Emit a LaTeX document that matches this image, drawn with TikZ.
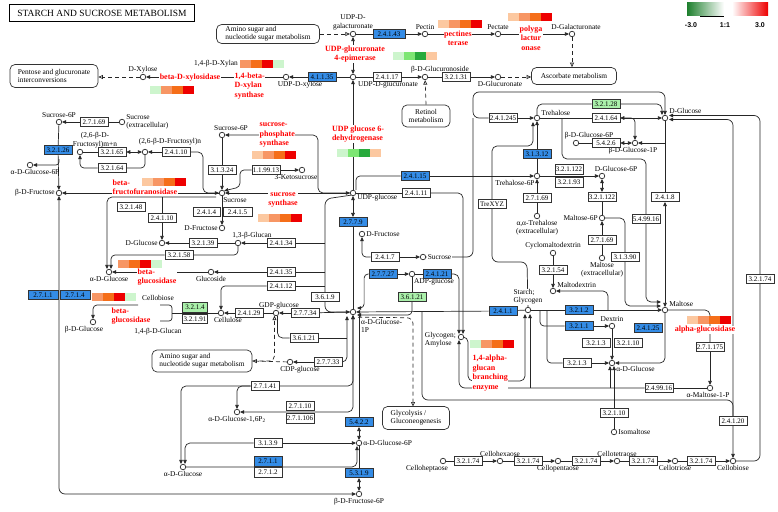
\documentclass[tikz,border=0pt]{standalone}
\usepackage{fontspec}
\setmainfont{Liberation Serif}
\setsansfont{Liberation Sans}
\usetikzlibrary{arrows.meta,positioning,calc}
\pgfdeclarelayer{bg}
\pgfsetlayers{bg,main}
\definecolor{keggblue}{RGB}{52,140,230}
\definecolor{ecgreen}{RGB}{170,240,170}
\definecolor{hp}{RGB}{252,200,160}
\definecolor{hs}{RGB}{247,150,100}
\definecolor{ho}{RGB}{245,110,25}
\definecolor{hr}{RGB}{238,0,0}
\definecolor{gl}{RGB}{205,245,205}
\definecolor{gm}{RGB}{125,230,115}
\definecolor{gd}{RGB}{40,170,60}
\newcommand{\heatbar}[3]{%
  \foreach \hcol [count=\hidx from 0] in {#3}
    {\fill[\hcol] ({#1+\hidx*11},#2) rectangle ++(11,8);}}

\begin{document}
\begin{tikzpicture}[x=1pt, y=-1pt,
    every node/.style={font=\fontsize{7.4}{8.2}\selectfont, inner sep=1pt},
    line/.style={draw=black!85, line width=0.7pt},
    arr/.style={line, -{Triangle[length=4pt, width=3.6pt]}},
    arrb/.style={line, {Triangle[length=4pt, width=3.6pt]}-{Triangle[length=4pt, width=3.6pt]}},
    link/.style={line, dash pattern=on 4pt off 3pt, -{Triangle[open, length=4.5pt, width=4pt]}},
    ecbox/.style={draw=black!80, line width=0.6pt, fill=white, minimum width=28pt, minimum height=9.5pt, inner sep=0pt, font=\fontsize{7}{8}\selectfont},
    ecblue/.style={ecbox, fill=keggblue},
    ecgrn/.style={ecbox, fill=ecgreen},
    cpd/.style={circle, draw=black!85, line width=0.7pt, fill=white, minimum size=5.5pt, inner sep=0pt},
    mapbox/.style={draw=black!80, line width=0.7pt, rounded corners=5pt, align=left, inner sep=2pt},
    enzname/.style={text=red, font=\fontsize{8}{9.4}\selectfont\bfseries, fill=white, inner sep=0.5pt, align=left}
  ]
\useasboundingbox (0,0) rectangle (778,511);

\node[draw, line width=1pt, minimum width=185pt, minimum height=17pt, font=\fontsize{9.5}{11}\selectfont] (title) at (102,13) {STARCH AND SUCROSE METABOLISM};
\shade[left color=gd!75!black, right color=white] (687,3) rectangle (724,16);
\shade[left color=white, right color=hr] (732,3) rectangle (768,16);
\draw[line width=0.8pt] (700,16) -- (724,16);
\node[font=\sffamily\bfseries\fontsize{7}{8}\selectfont] (lgmin) at (691,25) {-3.0};
\node[font=\sffamily\bfseries\fontsize{7}{8}\selectfont] (lgmid) at (725,25) {1:1};
\node[font=\sffamily\bfseries\fontsize{7}{8}\selectfont] (lgmax) at (760,25) {3.0};

\node[mapbox, minimum width=88pt, minimum height=23pt] (pentose) at (54,76) {Pentose and glucuronate\\interconversions};
\node[mapbox, minimum width=103pt, minimum height=18pt] (aminotop) at (268,34) {Amino sugar and\\nucleotide sugar metabolism};
\node[mapbox, minimum width=85pt, minimum height=17pt] (ascorbate) at (574,76) {Ascorbate metabolism};
\node[mapbox, minimum width=48pt, minimum height=22pt, align=center] (retinol) at (426,116) {Retinol\\metabolism};
\node[mapbox, minimum width=100pt, minimum height=22pt] (aminobot) at (202,361) {Amino sugar and\\nucleotide sugar metabolism};
\node[mapbox, minimum width=67pt, minimum height=23pt] (glycolysis) at (416,418) {Glycolysis /\\Gluconeogenesis};

\node[cpd, label={[align=center]above:UDP-D-\\galacturonate}] (udpgala) at (353,34) {};
\node[cpd, label=above:Pectin] (pectin) at (425,34) {};
\node[cpd, label=above:Pectate] (pectate) at (498,34) {};
\node[cpd, label={[xshift=4pt]above:D-Galacturonate}] (dgala) at (572,34) {};
\node[cpd, label=above:D-Xylose] (dxyl) at (143,77) {};
\node (xylan) at (216,64) {1,4-β-D-Xylan};
\node[cpd, label={[xshift=14pt]below:UDP-D-xylose}] (udpxyl) at (286,77) {};
\node[cpd, label={[xshift=35pt]below:UDP-D-glucuronate}] (udpglca) at (353,77) {};
\node[cpd, label={[xshift=15pt]above:β-D-Glucuronoside}] (glcaside) at (425,77) {};
\node[cpd, label={[xshift=2pt]below:D-Glucuronate}] (dglca) at (498,77) {};

\node[cpd, label=above:Sucrose-6P] (suc6pa) at (59,122) {};
\node[cpd, label={[align=left]right:Sucrose\\(extracellular)}] (sucext) at (122,122) {};
\node[cpd, label={[align=center, xshift=15pt]above:(2,6-β-D-\\Fructosyl)m+n}] (frucmn) at (80,152) {};
\node[cpd, label={[xshift=25pt, yshift=3pt]above:(2,6-β-D-Fructosyl)n}] (frucn) at (145,152) {};
\node[cpd, label={[xshift=5pt]below:α-D-Glucose-6P}] (ag6pa) at (30,165) {};
\node[cpd, label=left:β-D-Fructose] (bfru) at (59,193) {};
\node[cpd, label={[xshift=9pt]above:Sucrose-6P}] (suc6pb) at (222,135) {};
\node[cpd, label={[xshift=-6pt]below:3-Ketosucrose}] (ketosuc) at (302,170) {};
\node[cpd, label={[xshift=13pt]below:Sucrose}] (sucb) at (222,193) {};
\node[cpd, label=left:D-Fructose] (dfrua) at (222,228) {};
\node[cpd, label={[xshift=14pt]above:1,3-β-Glucan}] (glucan13) at (238,243) {};
\node[cpd, label=left:D-Glucose] (dglcl) at (162,243) {};
\node[cpd, label=below:α-D-Glucose] (aglca) at (109,272) {};
\node[cpd, label=below:Glucoside] (glucoside) at (211,272) {};
\node (cellobl) at (158,298) {Cellobiose};
\node[cpd, label={[xshift=-9pt]below:β-D-Glucose}] (bglc) at (93,322) {};
\node (glucan14) at (158,332) {1,4-β-D-Glucan};
\node[cpd, label={[xshift=7pt]below:Cellulose}] (cellulose) at (221,313) {};
\node[cpd, label={[xshift=3pt]above:GDP-glucose}] (gdpglc) at (276,313) {};
\node[cpd] (ag1p) at (353,312) {};
\node[anchor=north west, align=left] (ag1plbl) at (360,318) {α-D-Glucose-\\1P};
\node[cpd, label={[yshift=-5pt]right:UDP-glucose}] (udpglc) at (353,193) {};
\node[cpd, label=right:D-Fructose] (dfrub) at (362,234) {};
\node[cpd, label={[fill=white, inner sep=0.5pt, xshift=1pt]right:Sucrose}] (succ) at (423,257) {};
\node[cpd, label={[xshift=22pt]below:ADP-glucose}] (adpglc) at (412,274) {};
\node[cpd] (glycogen) at (461,337) {};
\node[anchor=east, align=left] (glycogenlbl) at (457,340) {Glycogen;\\Amylose};
\node[cpd, label={[align=left, fill=white, inner sep=0.5pt, yshift=2pt]above:Starch;\\Glycogen}] (starch) at (528,310) {};
\node[cpd, label={[xshift=-22pt]below:Trehalose-6P}] (tre6p) at (537,176) {};
\node[cpd, label={[yshift=5pt]right:Trehalose}] (tre) at (537,118) {};
\node[cpd, label={[align=center]below:α,α-Trehalose\\(extracellular)}] (treext) at (537,216) {};
\node[cpd, label={[xshift=14pt]above:D-Glucose-6P}] (dglc6p) at (602,176) {};
\node[cpd, label=left:Maltose-6P] (mal6p) at (602,218) {};
\node[cpd, label={[align=center]below:Maltose\\(extracellular)}] (malext) at (602,258) {};
\node[cpd, label={[xshift=13pt]above:β-D-Glucose-6P}] (bglc6p) at (576,143) {};
\node[cpd, label={[xshift=-2pt, fill=white, inner sep=0.5pt]below:β-D-Glucose-1P}] (bglc1p) at (635,143) {};
\node[cpd, label={[yshift=7pt]right:D-Glucose}] (dglcr) at (665,118) {};
\node[cpd, label={[yshift=6pt]right:Maltose}] (maltose) at (665,310) {};
\node[cpd, label=above:Cyclomaltodextrin] (cyclo) at (553,253) {};
\node[cpd, label={[yshift=6pt]right:Maltodextrin}] (maltodex) at (553,291) {};
\node[cpd, label=above:Dextrin] (dextrin) at (612,326) {};
\node[cpd, label={[yshift=-6pt]right:α-D-Glucose}] (aglcr) at (612,363) {};
\node[cpd, label={[xshift=-2pt]below:α-Maltose-1-P}] (amal1p) at (710,388) {};
\node[cpd, label=right:Isomaltose] (isomal) at (614,432) {};
\node[cpd, label={[xshift=-16pt]below:Celloheptaose}] (cellohept) at (443,461) {};
\node[cpd, label=above:Cellohexaose] (cellohex) at (500,461) {};
\node[cpd, label=below:Cellopentaose] (cellopent) at (558,461) {};
\node[cpd, label=above:Cellotetraose] (cellotet) at (617,461) {};
\node[cpd, label=below:Cellotriose] (cellotri) at (675,461) {};
\node[cpd, label=below:Cellobiose] (cellobr) at (733,461) {};
\node[cpd, label=right:α-D-Glucose-6P] (ag6pb) at (359,443) {};
\node[cpd, label=below:β-D-Fructose-6P] (bf6p) at (359,494) {};
\node[cpd, label=below:α-D-Glucose] (aglcb) at (183,467) {};
\node[cpd, label={below:α-D-Glucose-1,6P\textsubscript{2}}] (ag16p) at (237,412) {};
\node[cpd, label={[xshift=10pt]below:CDP-glucose}] (cdpglc) at (290,362) {};

\node[ecblue, minimum width=32pt] (e24143) at (389,34) {2.4.1.43};
\node[ecblue] (e41135) at (322,77) {4.1.1.35};
\node[ecbox] (e24117) at (387,77) {2.4.1.17};
\node[ecbox] (e32131) at (456,77) {3.2.1.31};
\node[ecbox] (e27169a) at (94,122) {2.7.1.69};
\node[ecblue] (e32126) at (58,150) {3.2.1.26};
\node[ecbox] (e32165) at (112,152) {3.2.1.65};
\node[ecbox] (e24110a) at (176,152) {2.4.1.10};
\node[ecbox] (e32164) at (112,168) {3.2.1.64};
\node[ecbox] (e31324) at (222,170) {3.1.3.24};
\node[ecbox] (e119913) at (266,170) {1.1.99.13};
\node[ecbox, minimum width=27pt] (e2414) at (206.5,212) {2.4.1.4};
\node[ecbox, minimum width=29pt] (e2415) at (237.5,212) {2.4.1.5};
\node[ecbox] (e32148) at (131,207) {3.2.1.48};
\node[ecbox] (e24110b) at (162,218) {2.4.1.10};
\node[ecbox] (e32139) at (203,243) {3.2.1.39};
\node[ecbox] (e24134) at (281,243) {2.4.1.34};
\node[ecbox] (e32158) at (179,255) {3.2.1.58};
\node[ecbox] (e24135) at (281,272) {2.4.1.35};
\node[ecbox] (e24112) at (281,286) {2.4.1.12};
\node[ecblue] (e2779) at (353,222) {2.7.7.9};
\node[ecbox] (e2417) at (385,257) {2.4.1.7};
\node[ecblue] (e24115) at (415,176) {2.4.1.15};
\node[ecbox] (e24111) at (416,193) {2.4.1.11};
\node[ecblue] (e27727) at (383,274) {2.7.7.27};
\node[ecblue] (e24121) at (437,274) {2.4.1.21};
\node[ecgrn] (e36121a) at (412,297) {3.6.1.21};
\node[ecbox] (e3619) at (325,297) {3.6.1.9};
\node[ecbox] (e27734) at (305,313) {2.7.7.34};
\node[ecbox] (e24129) at (249,313) {2.4.1.29};
\node[ecgrn, minimum width=25pt] (e3214) at (195,307.5) {3.2.1.4};
\node[ecbox, minimum width=25pt] (e32191) at (195,318.8) {3.2.1.91};
\node[ecblue, minimum width=30pt] (e2711a) at (43,295) {2.7.1.1};
\node[ecblue, minimum width=30pt] (e2714) at (75,295) {2.7.1.4};
\node[ecbox] (e36121b) at (304,338) {3.6.1.21};
\node[ecbox] (e27733) at (328,362) {2.7.7.33};
\node[ecbox] (e27141) at (265,386) {2.7.1.41};
\node[ecbox] (e27110) at (300,406) {2.7.1.10};
\node[ecbox] (e271106) at (300,418.5) {2.7.1.106};
\node[ecblue] (e5422) at (359,422) {5.4.2.2};
\node[ecbox] (e3139) at (268,443) {3.1.3.9};
\node[ecblue] (e2711b) at (268,461.5) {2.7.1.1};
\node[ecbox] (e2712) at (268,472.5) {2.7.1.2};
\node[ecblue] (e5319) at (359,473) {5.3.1.9};
\node[ecbox] (e24245) at (503,118) {2.4.1.245};
\node[ecblue] (e31312) at (537,154) {3.1.3.12};
\node[ecbox] (e27169b) at (537,198) {2.7.1.69};
\node[ecbox] (e321122a) at (569,169.5) {3.2.1.122};
\node[ecbox] (e32193) at (569,182.5) {3.2.1.93};
\node[ecbox] (trexyz) at (492,204) {TreXYZ};
\node[ecgrn] (e32128) at (606,104) {3.2.1.28};
\node[ecbox] (e24164) at (606,118) {2.4.1.64};
\node[ecbox] (e5426) at (606,143) {5.4.2.6};
\node[ecbox] (e321122b) at (602,197) {3.2.1.122};
\node[ecbox] (e27169c) at (602,240) {2.7.1.69};
\node[ecbox] (e31390) at (625,257) {3.1.3.90};
\node[ecbox] (e549916) at (646,219) {5.4.99.16};
\node[ecbox] (e2418) at (665,197) {2.4.1.8};
\node[ecbox] (e32154) at (553,270) {3.2.1.54};
\node[ecblue] (e2411) at (503,311) {2.4.1.1};
\node[ecblue] (e3212) at (579,310) {3.2.1.2};
\node[ecblue] (e3211) at (579,326) {3.2.1.1};
\node[ecblue] (e24125) at (648,328) {2.4.1.25};
\node[ecbox] (e3213a) at (596,343) {3.2.1.3};
\node[ecbox] (e32110a) at (628,343) {3.2.1.10};
\node[ecbox] (e3213b) at (577,363) {3.2.1.3};
\node[ecbox] (e32110b) at (614,413) {3.2.1.10};
\node[ecbox] (e271175) at (710,347) {2.7.1.175};
\node[ecbox] (e249916) at (659,388) {2.4.99.16};
\node[ecbox] (e24120) at (733,421) {2.4.1.20};
\node[ecbox] (e32174r) at (760,279) {3.2.1.74};
\node[ecbox] (e32174a) at (468,461) {3.2.1.74};
\node[ecbox] (e32174b) at (528,461) {3.2.1.74};
\node[ecbox] (e32174c) at (586,461) {3.2.1.74};
\node[ecbox] (e32174d) at (643,461) {3.2.1.74};
\node[ecbox] (e32174e) at (701,461) {3.2.1.74};

\node[enzname, align=center] (pme) at (458,38) {pectines\\terase};
\node[enzname, align=center] (pgase) at (531,38) {polyga\\lactur\\onase};
\node[enzname, align=center] (ugepi) at (355,54) {UDP-glucuronate\\4-epimerase};
\node[enzname] (xylosidase) at (190,78) {beta-D-xylosidase};
\node[enzname, anchor=west] (xylansyn) at (234,86) {1,4-beta-\\D-xylan\\synthase};
\node[enzname] (ugdh) at (358,134) {UDP glucose 6-\\dehydrogenase};
\node[enzname, anchor=west] (sps) at (259,135) {sucrose-\\phosphate\\synthase};
\node[enzname, align=center] (susy) at (283,200) {sucrose\\synthase};
\node[enzname, anchor=west] (fructofur) at (112,187) {beta-\\fructofuranosidase};
\node[enzname, anchor=west] (bglucosa) at (137,277) {beta-\\glucosidase};
\node[enzname, anchor=west] (bglucosb) at (111,316) {beta-\\glucosidase};
\node[enzname, anchor=west] (gbe) at (472,373) {1,4-alpha-\\glucan\\branching\\enzyme};
\node[enzname] (aglucos) at (705,330) {alpha-glucosidase};

\heatbar{438}{20}{hp,hs,ho,hr}
\heatbar{508}{13}{hp,hs,ho,hr}
\heatbar{393}{52}{gl,gm,gd,hp}
\heatbar{240}{60}{hs,ho,hr,gl}
\heatbar{150}{86}{gl,hs,ho,hr}
\heatbar{252}{151}{hp,hs,ho,hr}
\heatbar{337}{149}{gl,gm,gd,hp}
\heatbar{142}{178}{hp,hs,ho,hr}
\heatbar{258}{214}{hp,hs,ho,hr}
\heatbar{118}{260}{hs,ho,hr,gl}
\heatbar{92}{293}{hs,ho,hr,gl}
\heatbar{470}{340}{gl,hs,ho,hr}
\heatbar{687}{316}{hp,hs,ho,hr}

\coordinate (bus0) at (325,199);
\coordinate (fk1) at (59,159);
\coordinate (frbr) at (162,197);
\coordinate (sucsw) at (216,197);
\coordinate (cbl) at (138,305);
\coordinate (trej) at (562,118);
\coordinate (lpj) at (473,118);

\begin{pgfonlayer}{bg}
\draw[link] (aminotop.east) -- (udpgala);
\draw[line] (udpgala) -- (e24143);
\draw[arr] (e24143) -- (pectin);
\draw[arr] (pectin) -- (pectate);
\draw[arr] (pectate) -- (dgala);
\draw[link] (dgala) -- (dgala |- ascorbate.north);
\draw[arrb] (udpglca) -- (udpgala);
\draw[line] (udpglca) -- (e41135);
\draw[arr] (e41135) -- (udpxyl);
\draw[arr] (udpxyl) -- (dxyl);
\draw[link] (dxyl) -- (pentose.east |- dxyl);
\draw[line] (udpglca) -- (e24117);
\draw[arr] (e24117) -- (glcaside);
\draw[line] (glcaside) -- (e32131);
\draw[arr] (e32131) -- (dglca);
\draw[link] (dglca) -- (ascorbate.west |- dglca);
\draw[link] (retinol.north) -- (glcaside);
\draw[arr] (udpglc) -- (udpglca);

\draw[line] (sucext) -- (e27169a);
\draw[arr] (e27169a) -- (suc6pa);
\draw[line] (suc6pa) -- (e32126);
\draw[arr] (e32126) -- (bfru);
\draw[arr, rounded corners=3] (fk1) |- (ag6pa);
\draw[arrb] (frucmn) -- (e32165) -- (frucn);
\draw[arr] (e24110a) -- (frucn);
\draw[line, rounded corners=4] (frucn) |- (e32164.east);
\draw[arr, rounded corners=4] (e32164.west) -| (frucmn);
\draw[arr, rounded corners=5] (e24110a.east) -- (203,152) -- (203,193) -- (sucb);
\draw[line] (suc6pb) -- (e31324);
\draw[arr] (e31324) -- (sucb);
\draw[arr] (e119913) -- (ketosuc);
\draw[arr, rounded corners=4] (e119913.west) -- (240,170) -- (240,187) -- (sucb.north east);
\draw[arr] (sucb) -- (dfrua);
\draw[arrb] (sucb) -- (udpglc);
\draw[arr, rounded corners=5] (udpglc) -- (318,193) -- (318,135) -- (suc6pb);
\draw[arr] (sucb) -- (bfru);
\draw[arr, rounded corners=5] (sucsw) -| ($(aglca.north)+(-2,0)$);
\draw[arr] (frbr) -- (e24110b) -- (dglcl);
\draw[line] (glucan13) -- (e32139);
\draw[arr] (e32139) -- (dglcl);
\draw[arr] (e24134) -- (glucan13);
\draw[line, rounded corners=4] (glucan13) |- (e32158.east);
\draw[arr, rounded corners=4] (e32158.west) -| ($(aglca.north)+(2,0)$);
\draw[arr] (e24135) -- (glucoside);
\draw[arr] (glucoside) -- (aglca);
\draw[arr, rounded corners=4] (e24112.west) -| (cellulose);
\draw[line] (gdpglc) -- (e24129);
\draw[arr] (e24129) -- (cellulose);
\draw[line] (ag1p) -- (e27734);
\draw[arr] (e27734) -- (gdpglc);
\draw[line, rounded corners=3] (160,305) -- (172,305) -- (172,321) -- (160,321);
\draw[line] (172,313) -- (cellulose);
\draw[arr, rounded corners=4] (cbl) -| (bglc);

\draw[arr, rounded corners=6] (udpglc.-135) -- (bus0) -- (325,312) -- (ag1p.west);
\draw[line] (e24134.east) -- (e24134.east -| bus0);
\draw[line] (e24135.east) -- (e24135.east -| bus0);
\draw[line] (e24112.east) -- (e24112.east -| bus0);
\draw[arrb] (ag1p) -- (e2779) -- (udpglc);
\draw[arr, rounded corners=4] (e2417.west) -| (dfrub);
\draw[arr] (e2417) -- (succ);
\draw[arr] (e27727) -- (adpglc);
\draw[line] (adpglc) -- (e24121);
\draw[arr, rounded corners=4] (e27727.west) -| ($(ag1p.east)+(8,-4)$) -- ($(ag1p.east)+(1,-4)$);
\draw[line] (adpglc) -- (e36121a);
\draw[arr, rounded corners=4] (e36121a.south) |- ($(ag1p.east)+(1,3)$);
\draw[arr] (starch) -- (e2411) -- (ag1p);
\draw[line] (udpglc) -- (e24111);
\draw[arr, rounded corners=5] (e24111.east) -| ($(glycogen.north)+(2,0)$);
\draw[arr, rounded corners=5] (e24121.east) -- (447,274) -| ($(glycogen.north)+(-2,0)$);
\draw[line, rounded corners=4] ($(udpglc.north)+(3,0)$) |- (e24115.west);
\draw[arr] (e24115) -- (tre6p);
\draw[line] (tre6p) -- (e31312);
\draw[arr] (e31312) -- (tre);
\draw[line] (treext) -- (e27169b);
\draw[arr] (e27169b) -- (tre6p);
\draw[arr] (tre6p) -- (dglc6p);
\draw[arr] (e24245) -- (tre);
\draw[arr, rounded corners=5] (trexyz.north) |- (533,146) -- ($(tre.south)+(-4,1)$);
\draw[line, rounded corners=6] (trexyz.south) |- (527,262) -- (starch.north);
\draw[arr, rounded corners=6] (e24245.west) -| (473,92) -| (dglcr.north);
\draw[arr, rounded corners=6] (lpj) |- (succ);

\draw[arrb] (tre) -- (e24164) -- (dglcr);
\draw[arr, rounded corners=4] (e24164.east) -| (bglc1p);
\draw[arrb] (bglc6p) -- (e5426) -- (bglc1p);
\draw[arr] (bglc1p -| dglcr) -- (bglc1p);
\draw[arrb] (dglcr) -- (e2418) -- (maltose);
\draw[line, rounded corners=5] (tre.north) |- (e32128.west);
\draw[arr, rounded corners=5] (e32128.east) -| ($(dglcr.north)+(-3,0)$);
\draw[arr, rounded corners=5] (trej) -- (562,159) -- (646,159) -- (646,302) -- ($(maltose.west)+(-1,-8)$);
\draw[arrb] (mal6p) -- (e321122b) -- (dglc6p);
\draw[line] (malext) -- (e27169c);
\draw[arr] (e27169c) -- (mal6p);
\draw[line, rounded corners=5] (mal6p) -| (e31390);
\draw[arr, rounded corners=5] (e31390) |- ($(maltose.west)+(-1,-4)$);
\draw[line] (starch) -- (e3212);
\draw[arr] (e3212) -- (maltose);
\draw[line, rounded corners=4] (540,310) |- (e3211.west);
\draw[arr] (e3211) -- (dextrin);
\draw[line] (cyclo) -- (e32154);
\draw[arr] (e32154) -- (maltodex);
\draw[arr, rounded corners=5] (608,310) |- (maltodex);
\draw[arr] (dextrin) -- (aglcr);
\draw[line, rounded corners=4] (547,310) |- (e3213b.west);
\draw[arr] (e3213b) -- (aglcr);
\draw[arr] (isomal) -- (e32110b) -- ($(aglcr.south)+(2,0)$);
\draw[arr] (610,388) -- ($(aglcr.south)+(-2,0)$);
\draw[arr, rounded corners=5] (maltose) |- (aglcr);
\draw[line, rounded corners=5] (maltose) -| (e271175);
\draw[arr] (e271175) -- (amal1p);
\draw[line] (amal1p) -- (e249916);
\draw[arr, rounded corners=6] (e249916.west) -| ($(glycogen.south)+(-2,0)$);
\draw[arr] (530,388) -- ($(starch.south)+(2,1)$);
\draw[arrb, rounded corners=5] (glycogen.east) -- (468,337) -- (468,381) -- (525,381) -- ($(starch.south)+(-3,1)$);
\draw[arr, rounded corners=6] (422,311) -- (422,400) -- (733,400) -- (cellobr);
\draw[arr, rounded corners=6] (e24120.north) |- ($(dglcr.east)+(1,1.5)$);
\draw[arr, rounded corners=6] (cellobr.east) -| (760,115.5) -- ($(dglcr.east)+(1,-2.5)$);
\draw[line] (cellohept) -- (e32174a);
\draw[arr] (e32174a) -- (cellohex);
\draw[line] (cellohex) -- (e32174b);
\draw[arr] (e32174b) -- (cellopent);
\draw[line] (cellopent) -- (e32174c);
\draw[arr] (e32174c) -- (cellotet);
\draw[line] (cellotet) -- (e32174d);
\draw[arr] (e32174d) -- (cellotri);
\draw[line] (cellotri) -- (e32174e);
\draw[arr] (e32174e) -- (cellobr);

\draw[arrb, rounded corners=6] (bfru) -- (59,494) -- (bf6p);
\draw[arr, rounded corners=5] (e3139.west) -| ($(aglcb.north)+(2,0)$);
\draw[arr] (e3139) -- (ag6pb);
\draw[arr, rounded corners=5] (aglcb.east) -| ($(ag6pb.south)+(-2,0)$);
\draw[arr, rounded corners=5] (e27141.east) -| (ag1p.south);
\draw[arr, rounded corners=5] (e27141.west) -| ($(aglcb.north)+(-2,0)$);
\draw[arr, rounded corners=5] (e27141.west) -| (ag16p);
\draw[arrb, rounded corners=5] (ag16p) -- (353,412) -- (ag1p.south);
\draw[arr, rounded corners=5] (e27733.east) -| ($(ag1p.south)+(-6,1)$);
\draw[line] (e36121b.east) -- (e36121b.east -| 347,0);
\draw[line, rounded corners=5] (gdpglc.-60) |- (e36121b.west);
\draw[link, rounded corners=5] (aminobot.east) -| (gdpglc.-120);
\draw[arr] (e27733) -- (cdpglc);
\draw[link] (cdpglc) -- (aminobot.east);
\draw[arrb] ($(ag1p.south)+(6,1)$) -- (e5422) -- (ag6pb);
\draw[arrb] (ag6pb) -- (e5319) -- (bf6p);
\draw[link, rounded corners=6] ($(ag1p.south east)+(3,3)$) -- (413,317.8) -- (413,406.5);
\end{pgfonlayer}
\end{tikzpicture}
\end{document}
